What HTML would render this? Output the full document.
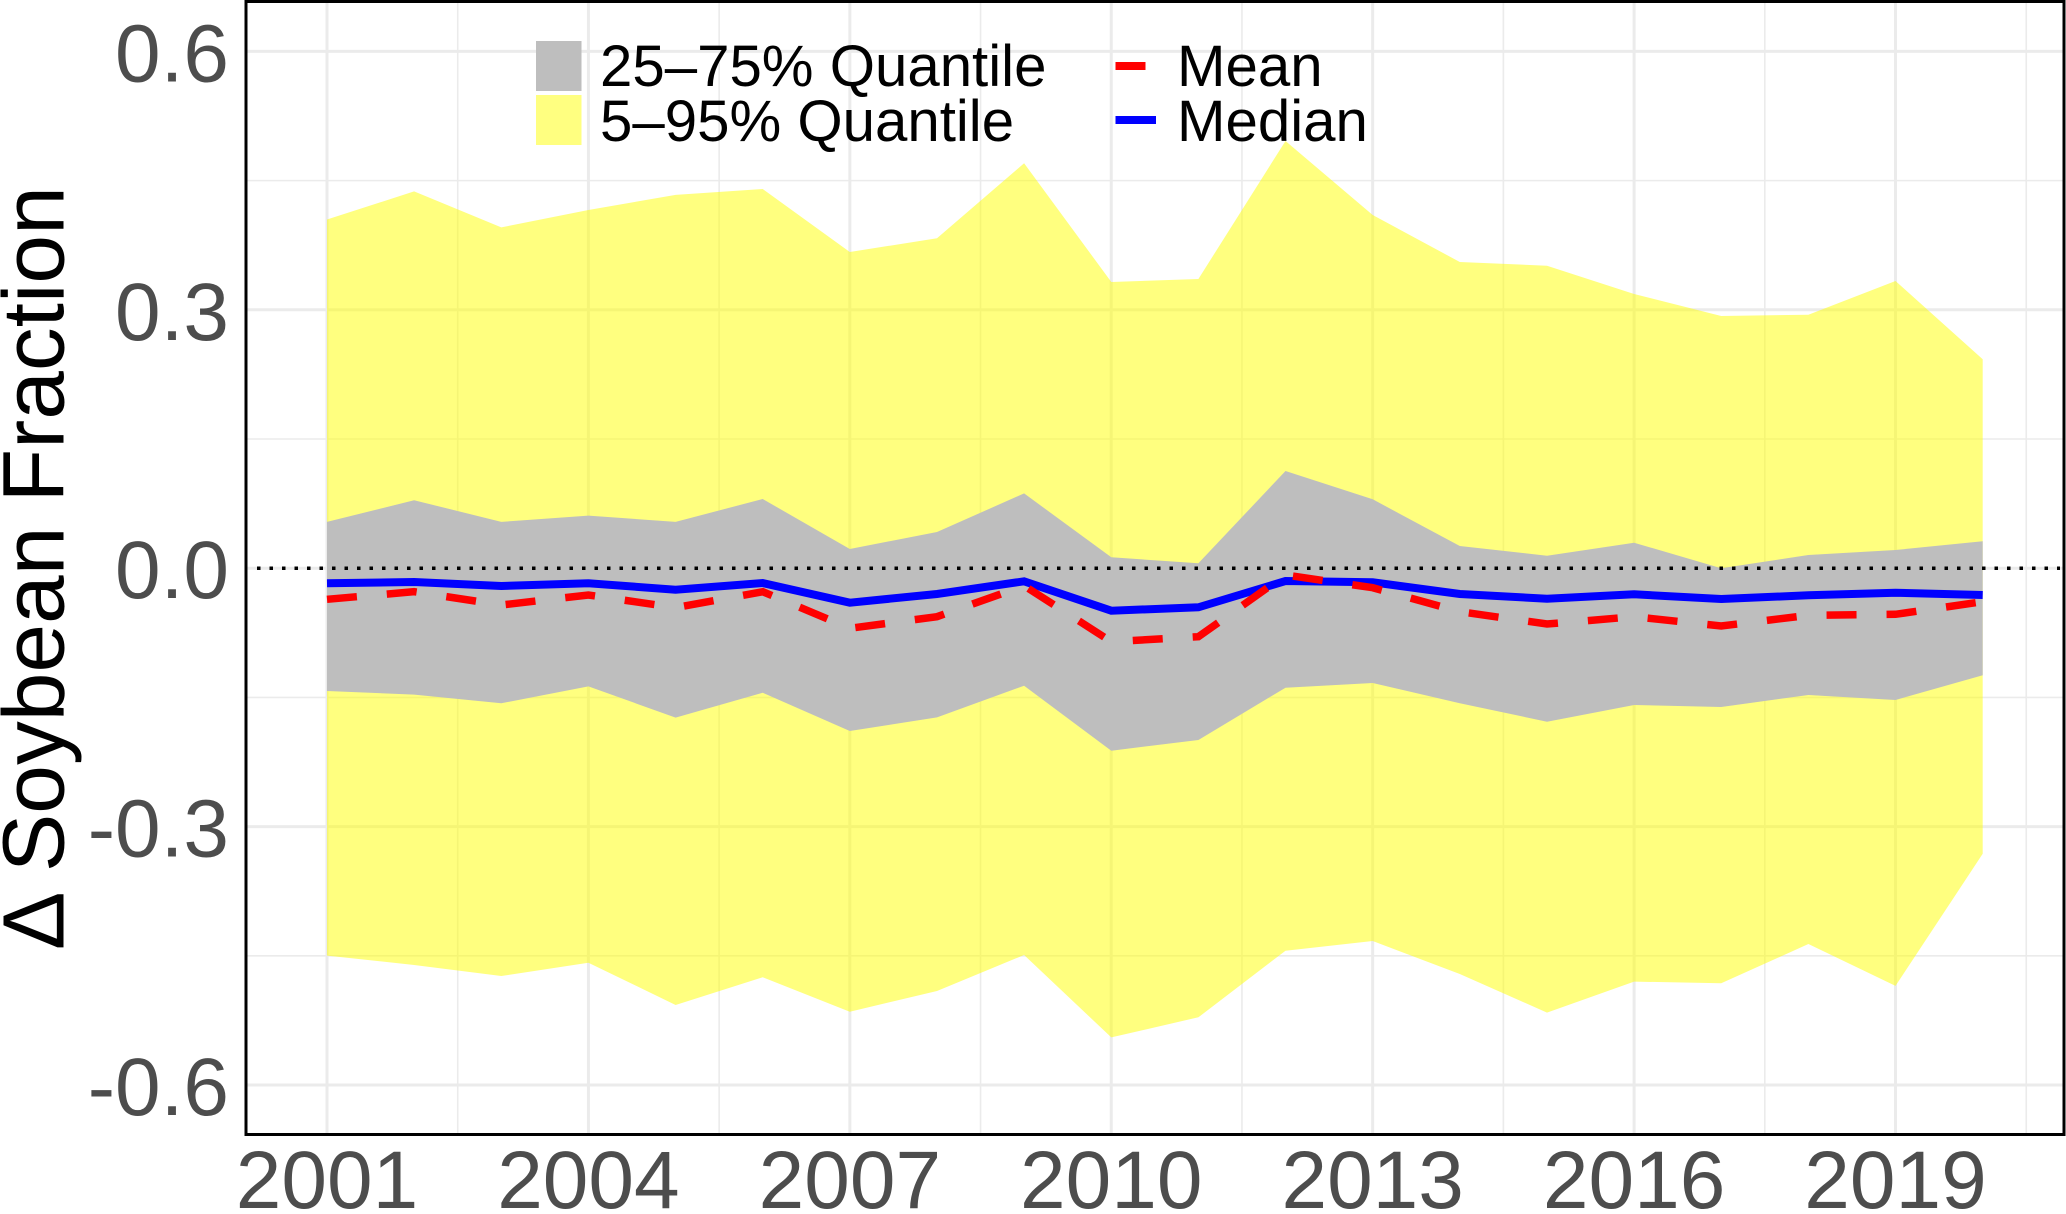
<!DOCTYPE html>
<html lang="en">
<head>
<meta charset="utf-8">
<title>Soybean Fraction Change</title>
<style>
html,body{margin:0;padding:0;background:#fff;}
svg{display:block;font-family:"Liberation Sans",Arial,sans-serif;}
</style>
</head>
<body>
<svg id="chart" xmlns="http://www.w3.org/2000/svg" width="2066" height="1214" viewBox="0 0 2066 1214">
<rect x="0" y="0" width="2066" height="1214" fill="#ffffff"/>
<g id="grid"></g>
<g id="bands"></g>
<line id="zero" stroke="#000" stroke-width="3.5" stroke-dasharray="3.5 9"/>
<g id="series"></g>
<rect x="246" y="1.5" width="1818" height="1133" fill="none" stroke="#000" stroke-width="3"/>
<g id="yticks"></g>
<g id="xticks"></g>
<text transform="translate(63.5 950) rotate(-90)" font-size="87.5" fill="#000">Δ Soybean Fraction</text>
<g>
  <rect x="536" y="41" width="45.5" height="50" fill="#bebebe"/>
  <rect x="536" y="95" width="45.5" height="50" fill="#ffff80"/>
  <text x="600" y="86" font-size="58.2" fill="#000">25–75% Quantile</text>
  <text x="600" y="141" font-size="58.2" fill="#000">5–95% Quantile</text>
  <rect x="1115.5" y="62" width="30" height="8" fill="#ff0000"/>
  <rect x="1115.5" y="116" width="40.5" height="8" fill="#0000ff"/>
  <text x="1177" y="86" font-size="58.2" fill="#000">Mean</text>
  <text x="1177" y="141" font-size="58.2" fill="#000">Median</text>
</g>
</svg>
<script>
var years = [2001,2002,2003,2004,2005,2006,2007,2008,2009,2010,2011,2012,2013,2014,2015,2016,2017,2018,2019,2020];
var q95 = [0.4049,0.4375,0.3957,0.4159,0.4334,0.4403,0.3671,0.383,0.4701,0.3323,0.3358,0.496,0.4101,0.3555,0.3512,0.3184,0.2928,0.2943,0.3334,0.2425];
var q75 = [0.0537,0.079,0.0537,0.0611,0.0537,0.0803,0.0223,0.042,0.0869,0.0126,0.0057,0.1129,0.08,0.0258,0.0145,0.0296,0,0.0153,0.0211,0.0312];
var q25 = [-0.1426,-0.1468,-0.1569,-0.1372,-0.1735,-0.1445,-0.189,-0.1732,-0.1364,-0.2119,-0.1995,-0.1387,-0.1333,-0.1569,-0.1782,-0.1588,-0.1612,-0.1472,-0.153,-0.1244];
var q05 = [-0.4498,-0.4607,-0.4735,-0.458,-0.5071,-0.475,-0.5149,-0.4909,-0.4491,-0.5447,-0.5214,-0.4441,-0.4328,-0.4712,-0.516,-0.48,-0.482,-0.4363,-0.485,-0.3316];
var meanValues = [-0.0361,-0.0273,-0.0427,-0.0311,-0.0458,-0.0273,-0.0698,-0.0563,-0.0203,-0.0853,-0.0795,-0.0079,-0.0226,-0.0505,-0.0648,-0.0563,-0.0671,-0.0547,-0.0535,-0.0389];
var medianValues = [-0.0175,-0.016,-0.0207,-0.0175,-0.025,-0.0172,-0.04,-0.03,-0.0152,-0.0493,-0.0454,-0.0149,-0.0164,-0.03,-0.0354,-0.0303,-0.0358,-0.0315,-0.0284,-0.0311];
var yTickValues = [0.6,0.3,0,-0.3,-0.6];
var yTickLabels = ["0.6","0.3","0.0","-0.3","-0.6"];
var yMinorValues = [0.45,0.15,-0.15,-0.45];
var xTickYears = [2001,2004,2007,2010,2013,2016,2019];
var xMinorYears = [2002.5,2005.5,2008.5,2011.5,2014.5,2017.5,2020.5];

var NS = 'http://www.w3.org/2000/svg';
function xScale(year){ return 327 + (year - 2001) * 87.14; }
function yScale(v){ return 568.2 - v * 861.3; }
var PANEL = {left:247.5, right:2062.5, top:3, bottom:1133};

function make(tag, attrs, parent){
  var el = document.createElementNS(NS, tag);
  for (var k in attrs) el.setAttribute(k, attrs[k]);
  parent.appendChild(el);
  return el;
}
function linePoints(values){
  return values.map(function(v,i){ return xScale(years[i]).toFixed(1)+','+yScale(v).toFixed(1); });
}
function bandPoints(upper, lower){
  return linePoints(upper).concat(linePoints(lower).reverse()).join(' ');
}

var grid = document.getElementById('grid');
var gridStyle = {stroke:'#ebebeb'};
yMinorValues.forEach(function(v){
  var el = make('line',{x1:PANEL.left,x2:PANEL.right,y1:yScale(v),y2:yScale(v),stroke:gridStyle.stroke,'stroke-width':1.6},grid);
  
  
});
xMinorYears.forEach(function(y){
  var el = make('line',{x1:xScale(y),x2:xScale(y),y1:PANEL.top,y2:PANEL.bottom,stroke:gridStyle.stroke,'stroke-width':1.6},grid);
  
  
});
yTickValues.forEach(function(v){
  var el = make('line',{x1:PANEL.left,x2:PANEL.right,y1:yScale(v),y2:yScale(v),stroke:gridStyle.stroke,'stroke-width':3},grid);
  
  
});
xTickYears.forEach(function(y){
  var el = make('line',{x1:xScale(y),x2:xScale(y),y1:PANEL.top,y2:PANEL.bottom,stroke:gridStyle.stroke,'stroke-width':3},grid);
  
  
});

var bands = document.getElementById('bands');
var outerBand = make('polygon',{points:bandPoints(q95,q05),fill:'#ffff00','fill-opacity':0.5},bands);


var innerBand = make('polygon',{points:bandPoints(q75,q25),fill:'#bebebe'},bands);



var zero = document.getElementById('zero');
zero.setAttribute('x1', 257);
zero.setAttribute('x2', 2060);
zero.setAttribute('y1', yScale(0));
zero.setAttribute('y2', yScale(0));

var series = document.getElementById('series');
var medianLine = make('polyline',{points:linePoints(medianValues).join(' '),fill:'none',stroke:'#0000ff','stroke-width':8,'stroke-linejoin':'miter'},series);


var meanLine = make('polyline',{points:linePoints(meanValues).join(' '),fill:'none',stroke:'#ff0000','stroke-width':7.5,'stroke-dasharray':'30 30','stroke-linejoin':'miter'},series);



var yticks = document.getElementById('yticks');
yTickValues.forEach(function(v,i){
  var el = make('text',{x:229,y:yScale(v)+30,'text-anchor':'end','font-size':82,fill:'#4d4d4d'},yticks);
  el.textContent = yTickLabels[i];
  
  
});
var xticks = document.getElementById('xticks');
xTickYears.forEach(function(y){
  var el = make('text',{x:xScale(y),y:1208,'text-anchor':'middle','font-size':82,fill:'#4d4d4d'},xticks);
  el.textContent = String(y);
  
  
});
</script>
</body>
</html>
